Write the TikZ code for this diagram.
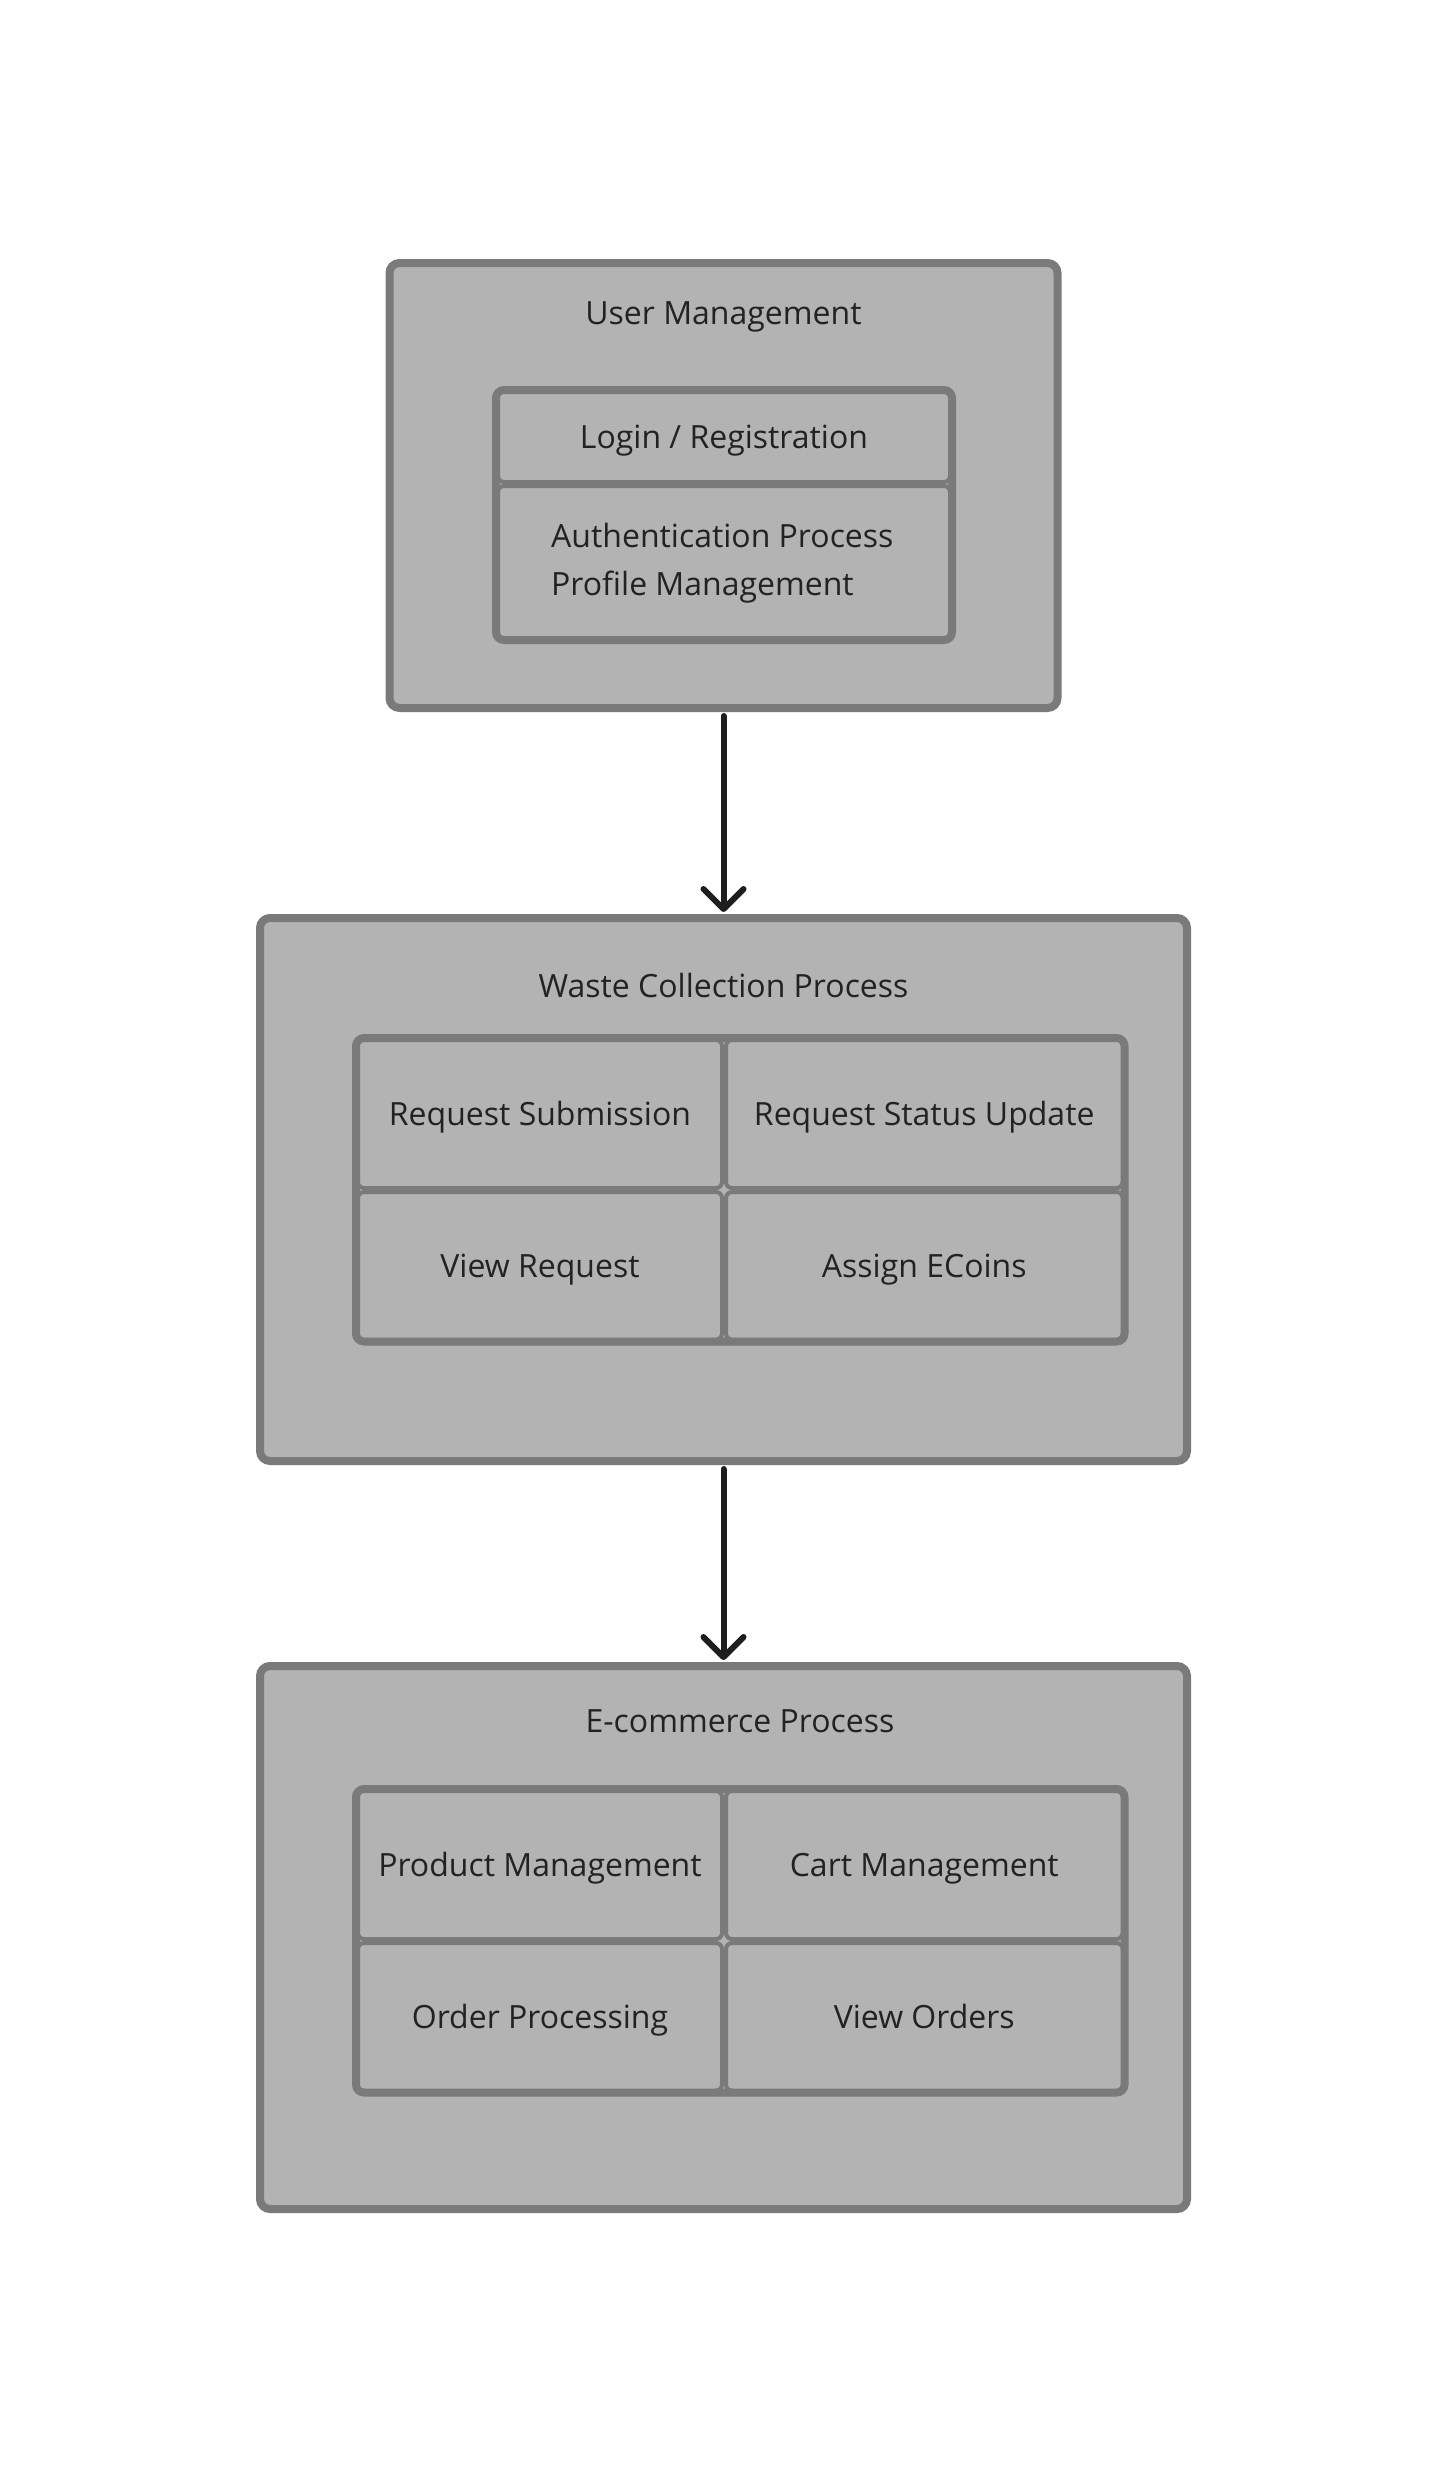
\documentclass[tikz,border=0pt]{standalone}
\usepackage{fontspec}
\setmainfont{Open Sans}
\usetikzlibrary{arrows.meta}
\definecolor{boxfill}{HTML}{B3B3B3}
\definecolor{boxline}{HTML}{7A7A7A}
\definecolor{inkc}{HTML}{222222}
\definecolor{arrowc}{HTML}{1E1E1E}
\tikzset{
  bigbox/.style={draw=boxline, fill=boxfill, line width=8pt, rounded corners=10pt, inner sep=0pt, outer sep=0pt},
  gridbox/.style={draw=boxline, fill=boxfill, line width=8pt, rounded corners=8pt, inner sep=0pt, outer sep=0pt},
  cellbox/.style={draw=boxline, fill=boxfill, line width=4pt, rounded corners=6pt, inner sep=0pt, outer sep=0pt,
    text=inkc, font=\fontsize{32}{38}\selectfont, text height=22.85pt, text depth=0pt},
  titletext/.style={text=inkc, font=\fontsize{32}{38}\selectfont, inner sep=0pt, anchor=base},
  flow/.style={draw=arrowc, line width=6pt, line cap=round,
    -{Straight Barb[length=20pt, width=40pt, line width=6pt, round]}, shorten <=8pt, shorten >=6pt}
}
\begin{document}
\begin{tikzpicture}[x=1pt,y=-1pt]
\fill[white] (0,0) rectangle (1448,2470);
\useasboundingbox (0,0) rectangle (1448,2470);

% User Management
\node[bigbox, minimum width=668pt, minimum height=445pt] (um) at (723.5,485.5) {};
\node[titletext] (umt) at (723.5,324) {User Management};
\node[gridbox, minimum width=456pt, minimum height=250pt] (umg) at (724,515) {};
\node[cellbox, minimum width=452pt, minimum height=90pt] (login) at (724,437) {Login / Registration};
\node[cellbox, minimum width=452pt, minimum height=152pt] (auth) at (724,562) {};
\node[titletext, anchor=base west] (authtxt) at (551,547) {Authentication Process};
\node[titletext, anchor=base west] (proftxt) at (551,595) {Profile Management};

% Waste Collection Process
\node[bigbox, minimum width=927pt, minimum height=543pt] (wcp) at (723.5,1189.5) {};
\node[titletext] (wcpt) at (723.5,997) {Waste Collection Process};
\node[gridbox, minimum width=768.5pt, minimum height=303.5pt] (wgrid) at (740.25,1189.75) {};
\node[cellbox, minimum width=364pt, minimum height=148pt] (rsub) at (540,1114) {Request Submission};
\node[cellbox, minimum width=396.5pt, minimum height=148pt] (rstat) at (924.25,1114) {Request Status Update};
\node[cellbox, minimum width=364pt, minimum height=147.5pt] (vreq) at (540,1265.75) {View Request};
\node[cellbox, minimum width=396.5pt, minimum height=147.5pt] (aeco) at (924.25,1265.75) {Assign ECoins};

% E-commerce Process
\node[bigbox, minimum width=927pt, minimum height=543pt] (ecp) at (723.5,1937.5) {};
\node[titletext] (ecpt) at (740,1732) {E-commerce Process};
\node[gridbox, minimum width=768.5pt, minimum height=303.5pt] (egrid) at (740.25,1940.75) {};
\node[cellbox, minimum width=364pt, minimum height=148pt] (pman) at (540,1865) {Product Management};
\node[cellbox, minimum width=396.5pt, minimum height=148pt] (cman) at (924.25,1865) {Cart Management};
\node[cellbox, minimum width=364pt, minimum height=147.5pt] (oproc) at (540,2016.75) {Order Processing};
\node[cellbox, minimum width=396.5pt, minimum height=147.5pt] (vord) at (924.25,2016.75) {View Orders};

% connectors
\draw[flow] (um.south) -- (wcp.north);
\draw[flow] (wcp.south) -- (ecp.north);
\end{tikzpicture}
\end{document}
